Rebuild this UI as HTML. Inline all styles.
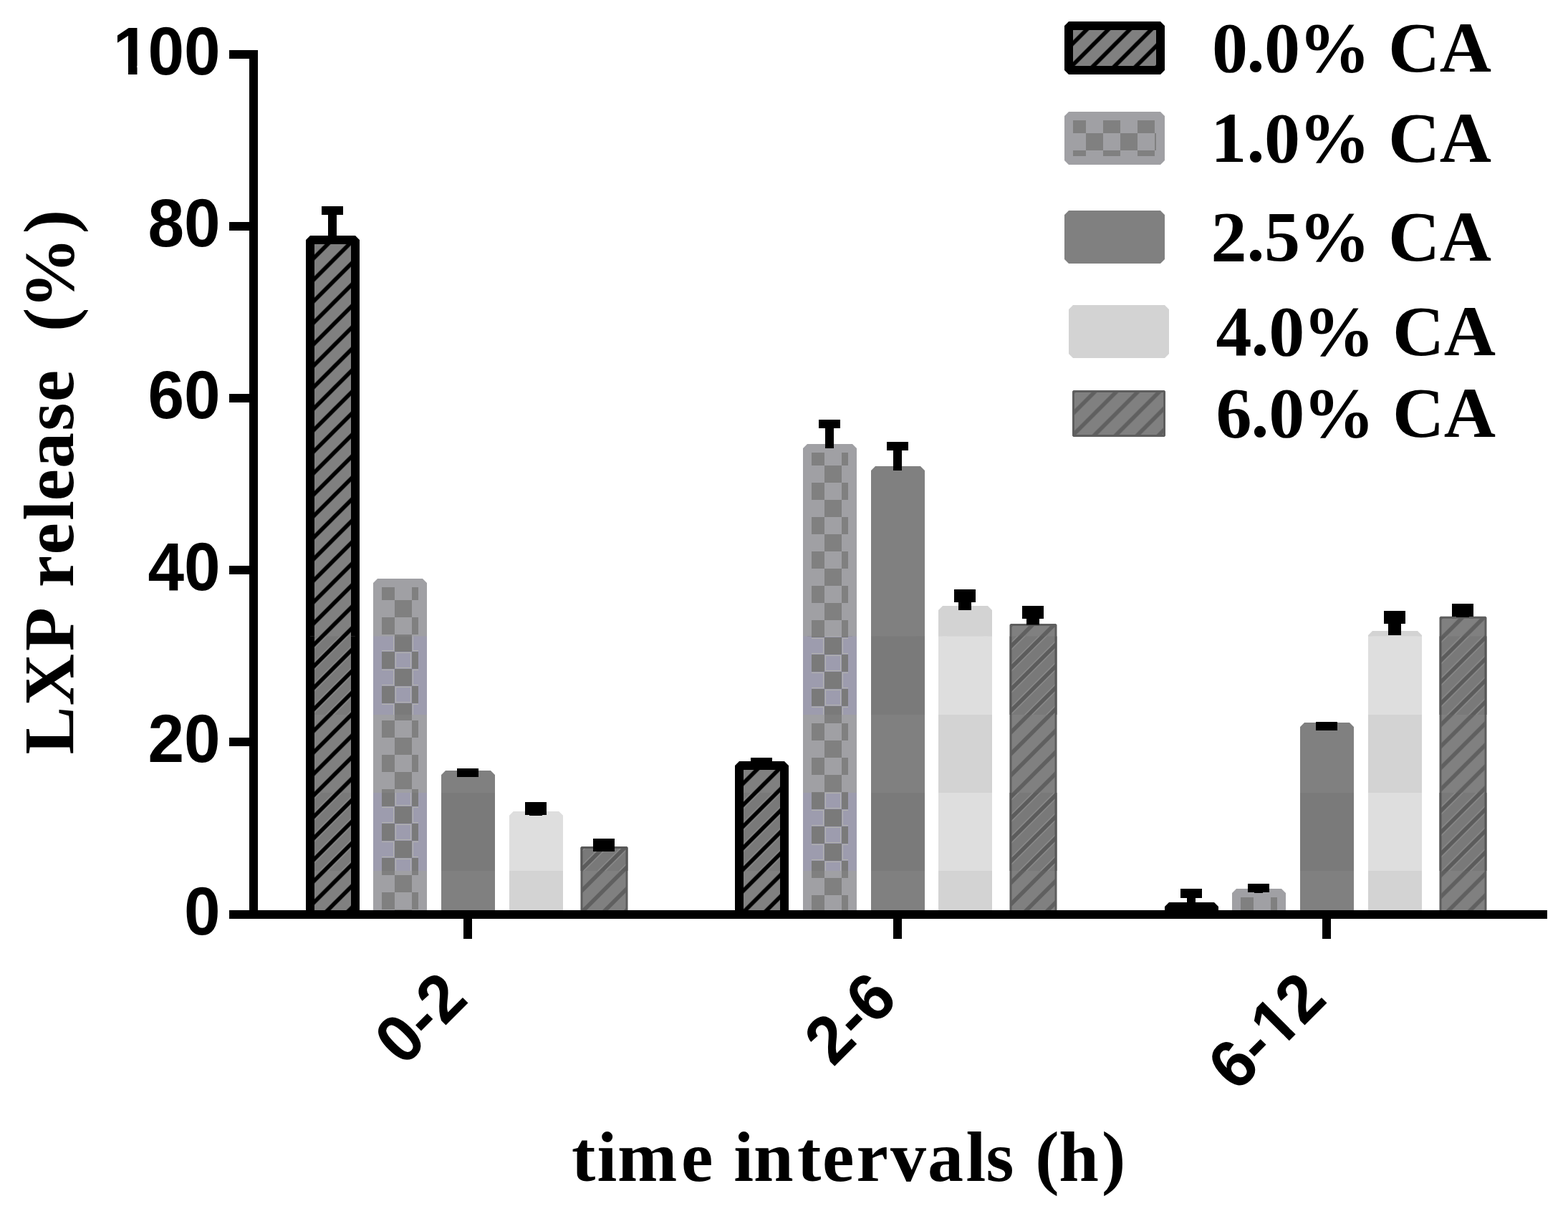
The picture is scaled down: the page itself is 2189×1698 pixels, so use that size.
<!DOCTYPE html>
<html lang="en"><head><meta charset="utf-8"><title>LXP release vs time intervals</title>
<style>
html,body{margin:0;padding:0;background:#fff;}
body{width:2189px;height:1698px;overflow:hidden;}
svg{display:block;}
.sans{font-family:"Liberation Sans",sans-serif;font-weight:bold;fill:#000;}
.serif{font-family:"Liberation Serif",serif;font-weight:bold;fill:#000;}
</style></head><body>
<svg width="2189" height="1698" viewBox="0 0 2189 1698">
<defs>
<pattern id="hb" patternUnits="userSpaceOnUse" x="0" y="0.5" width="30" height="30"><rect width="30" height="30" fill="#808080"/><path d="M-15 15L15 -15M0 30L30 0M15 45L45 15" stroke="#000" stroke-width="5.6" fill="none"/></pattern>
<pattern id="hbt" patternUnits="userSpaceOnUse" x="0" y="0.5" width="30" height="30"><rect width="30" height="30" fill="#797979"/><path d="M-15 15L15 -15M0 30L30 0M15 45L45 15" stroke="#8c8c8c" stroke-width="8.6" fill="none"/><path d="M-15 15L15 -15M0 30L30 0M15 45L45 15" stroke="#000" stroke-width="5.6" fill="none"/></pattern>
<pattern id="hg" patternUnits="userSpaceOnUse" x="0" y="0.5" width="30" height="30"><rect width="30" height="30" fill="#808080"/><path d="M-15 15L15 -15M0 30L30 0M15 45L45 15" stroke="#606060" stroke-width="5.6" fill="none"/></pattern>
<pattern id="hgt" patternUnits="userSpaceOnUse" x="0" y="0.5" width="30" height="30"><rect width="30" height="30" fill="#797979"/><path d="M-15 15L15 -15M0 30L30 0M15 45L45 15" stroke="#8a8a8a" stroke-width="8.6" fill="none"/><path d="M-15 15L15 -15M0 30L30 0M15 45L45 15" stroke="#5c5c5c" stroke-width="5.6" fill="none"/></pattern>
<pattern id="ck" patternUnits="userSpaceOnUse" width="48" height="48"><rect width="48" height="48" fill="#a0a0a4"/><rect width="24" height="24" fill="#808080"/><rect x="24" y="24" width="24" height="24" fill="#808080"/></pattern>
<pattern id="ckt" patternUnits="userSpaceOnUse" width="48" height="48"><rect width="48" height="48" fill="#9d9cae"/><rect x="25.5" y="1.5" width="21" height="21" fill="none" stroke="#b2b2ae" stroke-width="1"/><rect x="1.5" y="25.5" width="21" height="21" fill="none" stroke="#b2b2ae" stroke-width="1"/><rect width="24" height="24" fill="#7a7a7a"/><rect x="24" y="24" width="24" height="24" fill="#7a7a7a"/></pattern>
</defs>
<rect width="2189" height="1698" fill="#fff"/>
<g id="bars">
<g transform="translate(433,335)"><rect x="0" y="0" width="63" height="942" fill="url(#hb)" stroke="#000" stroke-width="12" stroke-linejoin="bevel"/></g>
<g transform="translate(527,814)"><rect x="0" y="0" width="63" height="463" fill="url(#ck)" stroke="#a0a0a4" stroke-width="12" stroke-linejoin="bevel"/></g>
<g transform="translate(622,1082)"><rect x="0" y="0" width="63" height="195" fill="#808080" stroke="#808080" stroke-width="12" stroke-linejoin="bevel"/></g>
<g transform="translate(717,1139)"><rect x="0" y="0" width="63" height="138" fill="#d3d3d3" stroke="#d3d3d3" stroke-width="12" stroke-linejoin="bevel"/></g>
<g transform="translate(812,1183.5)"><rect x="0" y="0" width="63" height="93.5" fill="url(#hg)" stroke="#5e5e5e" stroke-width="3" stroke-linejoin="bevel"/></g>
<g transform="translate(1032,1069)"><rect x="0" y="0" width="63" height="208" fill="url(#hb)" stroke="#000" stroke-width="12" stroke-linejoin="bevel"/></g>
<g transform="translate(1127,626)"><rect x="0" y="0" width="63" height="651" fill="url(#ck)" stroke="#a0a0a4" stroke-width="12" stroke-linejoin="bevel"/></g>
<g transform="translate(1222,657)"><rect x="0" y="0" width="63" height="620" fill="#808080" stroke="#808080" stroke-width="12" stroke-linejoin="bevel"/></g>
<g transform="translate(1316,852)"><rect x="0" y="0" width="63" height="425" fill="#d3d3d3" stroke="#d3d3d3" stroke-width="12" stroke-linejoin="bevel"/></g>
<g transform="translate(1411,872.5)"><rect x="0" y="0" width="63" height="404.5" fill="url(#hg)" stroke="#5e5e5e" stroke-width="3" stroke-linejoin="bevel"/></g>
<g transform="translate(1632,1266)"><rect x="0" y="0" width="63" height="11" fill="url(#hb)" stroke="#000" stroke-width="12" stroke-linejoin="bevel"/></g>
<g transform="translate(1726,1247)"><rect x="0" y="0" width="63" height="30" fill="url(#ck)" stroke="#a0a0a4" stroke-width="12" stroke-linejoin="bevel"/></g>
<g transform="translate(1821,1015)"><rect x="0" y="0" width="63" height="262" fill="#808080" stroke="#808080" stroke-width="12" stroke-linejoin="bevel"/></g>
<g transform="translate(1916,887)"><rect x="0" y="0" width="63" height="390" fill="#d3d3d3" stroke="#d3d3d3" stroke-width="12" stroke-linejoin="bevel"/></g>
<g transform="translate(2011,862.3)"><rect x="0" y="0" width="63" height="414.7" fill="url(#hg)" stroke="#5e5e5e" stroke-width="3" stroke-linejoin="bevel"/></g>
</g>
<clipPath id="bands"><rect x="0" y="888.6" width="2189" height="109.4"/><rect x="0" y="1107" width="2189" height="109"/></clipPath>
<g id="bar-bands" clip-path="url(#bands)">
<g transform="translate(433,335)"><rect x="0" y="0" width="63" height="942" fill="url(#hbt)" stroke="#000" stroke-width="12" stroke-linejoin="bevel"/></g>
<g transform="translate(527,814)"><rect x="0" y="0" width="63" height="463" fill="url(#ckt)" stroke="#9d9cae" stroke-width="12" stroke-linejoin="bevel"/></g>
<g transform="translate(622,1082)"><rect x="0" y="0" width="63" height="195" fill="#7a7a7a" stroke="#7a7a7a" stroke-width="12" stroke-linejoin="bevel"/></g>
<g transform="translate(717,1139)"><rect x="0" y="0" width="63" height="138" fill="#dedede" stroke="#dedede" stroke-width="12" stroke-linejoin="bevel"/></g>
<g transform="translate(812,1183.5)"><rect x="0" y="0" width="63" height="93.5" fill="url(#hgt)" stroke="#575757" stroke-width="3" stroke-linejoin="bevel"/></g>
<g transform="translate(1032,1069)"><rect x="0" y="0" width="63" height="208" fill="url(#hbt)" stroke="#000" stroke-width="12" stroke-linejoin="bevel"/></g>
<g transform="translate(1127,626)"><rect x="0" y="0" width="63" height="651" fill="url(#ckt)" stroke="#9d9cae" stroke-width="12" stroke-linejoin="bevel"/></g>
<g transform="translate(1222,657)"><rect x="0" y="0" width="63" height="620" fill="#7a7a7a" stroke="#7a7a7a" stroke-width="12" stroke-linejoin="bevel"/></g>
<g transform="translate(1316,852)"><rect x="0" y="0" width="63" height="425" fill="#dedede" stroke="#dedede" stroke-width="12" stroke-linejoin="bevel"/></g>
<g transform="translate(1411,872.5)"><rect x="0" y="0" width="63" height="404.5" fill="url(#hgt)" stroke="#575757" stroke-width="3" stroke-linejoin="bevel"/></g>
<g transform="translate(1821,1015)"><rect x="0" y="0" width="63" height="262" fill="#7a7a7a" stroke="#7a7a7a" stroke-width="12" stroke-linejoin="bevel"/></g>
<g transform="translate(1916,887)"><rect x="0" y="0" width="63" height="390" fill="#dedede" stroke="#dedede" stroke-width="12" stroke-linejoin="bevel"/></g>
<g transform="translate(2011,862.3)"><rect x="0" y="0" width="63" height="414.7" fill="url(#hgt)" stroke="#575757" stroke-width="3" stroke-linejoin="bevel"/></g>
</g>
<g id="errorbars" fill="#000">
<rect x="449" y="288" width="30" height="12"/>
<rect x="458" y="299" width="12" height="36"/>
<rect x="638" y="1073" width="30" height="12"/>
<rect x="733" y="1120" width="30" height="18"/>
<rect x="739" y="1137" width="18" height="2"/>
<rect x="828" y="1171" width="30" height="18"/>
<rect x="1048" y="1058" width="30" height="12"/>
<rect x="1143" y="586" width="30" height="12"/>
<rect x="1152" y="597" width="12" height="29"/>
<rect x="1238" y="617" width="30" height="12"/>
<rect x="1247" y="628" width="12" height="29"/>
<rect x="1332" y="823" width="30" height="18"/>
<rect x="1338" y="840" width="18" height="12"/>
<rect x="1427" y="846" width="30" height="18"/>
<rect x="1433" y="863" width="18" height="9.5"/>
<rect x="1648" y="1241" width="30" height="13"/>
<rect x="1657" y="1253" width="12" height="9"/>
<rect x="1742" y="1234" width="30" height="12"/>
<rect x="1751" y="1245" width="12" height="2"/>
<rect x="1837" y="1008" width="30" height="12"/>
<rect x="1932" y="853" width="30" height="18"/>
<rect x="1938" y="870" width="18" height="17"/>
<rect x="2027" y="843" width="30" height="18"/>
<rect x="2033" y="860" width="18" height="2"/>
</g>
<g id="axes" fill="#000">
<rect x="348" y="70" width="12" height="1213"/>
<rect x="320" y="1271" width="1840" height="12"/>
<rect x="320" y="70" width="40" height="12"/>
<rect x="320" y="310" width="40" height="12"/>
<rect x="320" y="550" width="40" height="12"/>
<rect x="320" y="790" width="40" height="12"/>
<rect x="320" y="1030" width="40" height="12"/>
<rect x="647" y="1283" width="12" height="28"/>
<rect x="1247" y="1283" width="12" height="28"/>
<rect x="1846" y="1283" width="12" height="28"/>
</g>
<g id="yticks" class="sans" font-size="91">
<g transform="translate(0,104.1) scale(1,1.035)"><text x="157.8 206.5 257.1" y="0">100</text><rect x="161.27" y="-11.79" width="17.74" height="12.79" fill="#fff"/><rect x="191.50" y="-11.79" width="15.60" height="12.79" fill="#fff"/></g>
<g transform="translate(0,344.1) scale(1,1.035)"><text x="206.5 257.1" y="0">80</text></g>
<g transform="translate(0,584.1) scale(1,1.035)"><text x="206.5 257.1" y="0">60</text></g>
<g transform="translate(0,824.1) scale(1,1.035)"><text x="206.5 257.1" y="0">40</text></g>
<g transform="translate(0,1064.1) scale(1,1.035)"><text x="206.5 257.1" y="0">20</text></g>
<g transform="translate(0,1305.1) scale(1,1.035)"><text x="257.1" y="0">0</text></g>
</g>
<g id="xticks" class="sans" font-size="91">
<g transform="translate(656,1398) rotate(-45) scale(1,1.035)"><text x="-131.5 -80.9 -50.6" y="0">0-2</text></g>
<g transform="translate(1256,1398) rotate(-45) scale(1,1.035)"><text x="-131.5 -80.9 -50.6" y="0">2-6</text></g>
<g transform="translate(1855,1398) rotate(-45) scale(1,1.035)"><text x="-182.1 -131.5 -99.3 -50.6" y="0">6-12</text><rect x="-95.82" y="-11.79" width="17.74" height="12.79" fill="#fff"/><rect x="-65.59" y="-11.79" width="15.60" height="12.79" fill="#fff"/></g>
</g>
<text class="serif" font-size="100" x="798.0 833.4 861.9 951.0 995.4 1024.2 1051.9 1113.1 1148.1 1195.5 1242.9 1295.1 1348.5 1376.6 1415.6 1445.3 1478.3 1538.1" y="1649.2">time intervals (h)</text>
<text class="serif" font-size="100" transform="translate(101.6,0) rotate(-90)" x="-1053.6 -985.3 -909.2 -848.1 -820.2 -774.4 -726.7 -699.5 -654.1 -601.6 -561.2 -516.8 -463.1 -431.3 -326.3" y="0">LXP release (%)</text>
<g id="legend">
<g transform="translate(1492,36)"><rect x="0" y="0" width="128" height="62" fill="url(#hb)" stroke="#000" stroke-width="12" stroke-linejoin="bevel"/></g>
<text class="serif" font-size="100" x="1692.0 1740.4 1765.1 1813.0 1913.0 1937.9 2009.7" y="100.2">0.0% CA</text>
<g transform="translate(1492,162)"><rect x="0" y="0" width="128" height="62" fill="url(#ck)" stroke="#a0a0a4" stroke-width="12" stroke-linejoin="bevel"/></g>
<text class="serif" font-size="100" x="1690.3 1740.4 1765.1 1813.0 1913.0 1937.9 2009.7" y="226.3">1.0% CA</text>
<g transform="translate(1492,300)"><rect x="0" y="0" width="128" height="62" fill="#808080" stroke="#808080" stroke-width="12" stroke-linejoin="bevel"/></g>
<text class="serif" font-size="100" x="1690.4 1740.4 1765.1 1813.0 1913.0 1937.9 2009.7" y="363.9">2.5% CA</text>
<g transform="translate(1498,432)"><rect x="0" y="0" width="128" height="62" fill="#d3d3d3" stroke="#d3d3d3" stroke-width="12" stroke-linejoin="bevel"/></g>
<text class="serif" font-size="100" x="1697.4 1746.5 1771.2 1819.1 1919.1 1944.0 2015.8" y="496">4.0% CA</text>
<g transform="translate(1498.5,546.5)"><rect x="0" y="0" width="127" height="62" fill="url(#hg)" stroke="#5e5e5e" stroke-width="3" stroke-linejoin="bevel"/></g>
<text class="serif" font-size="100" x="1697.4 1746.5 1771.2 1819.1 1919.1 1944.0 2015.8" y="609.8">6.0% CA</text>
</g>
</svg>
</body></html>
